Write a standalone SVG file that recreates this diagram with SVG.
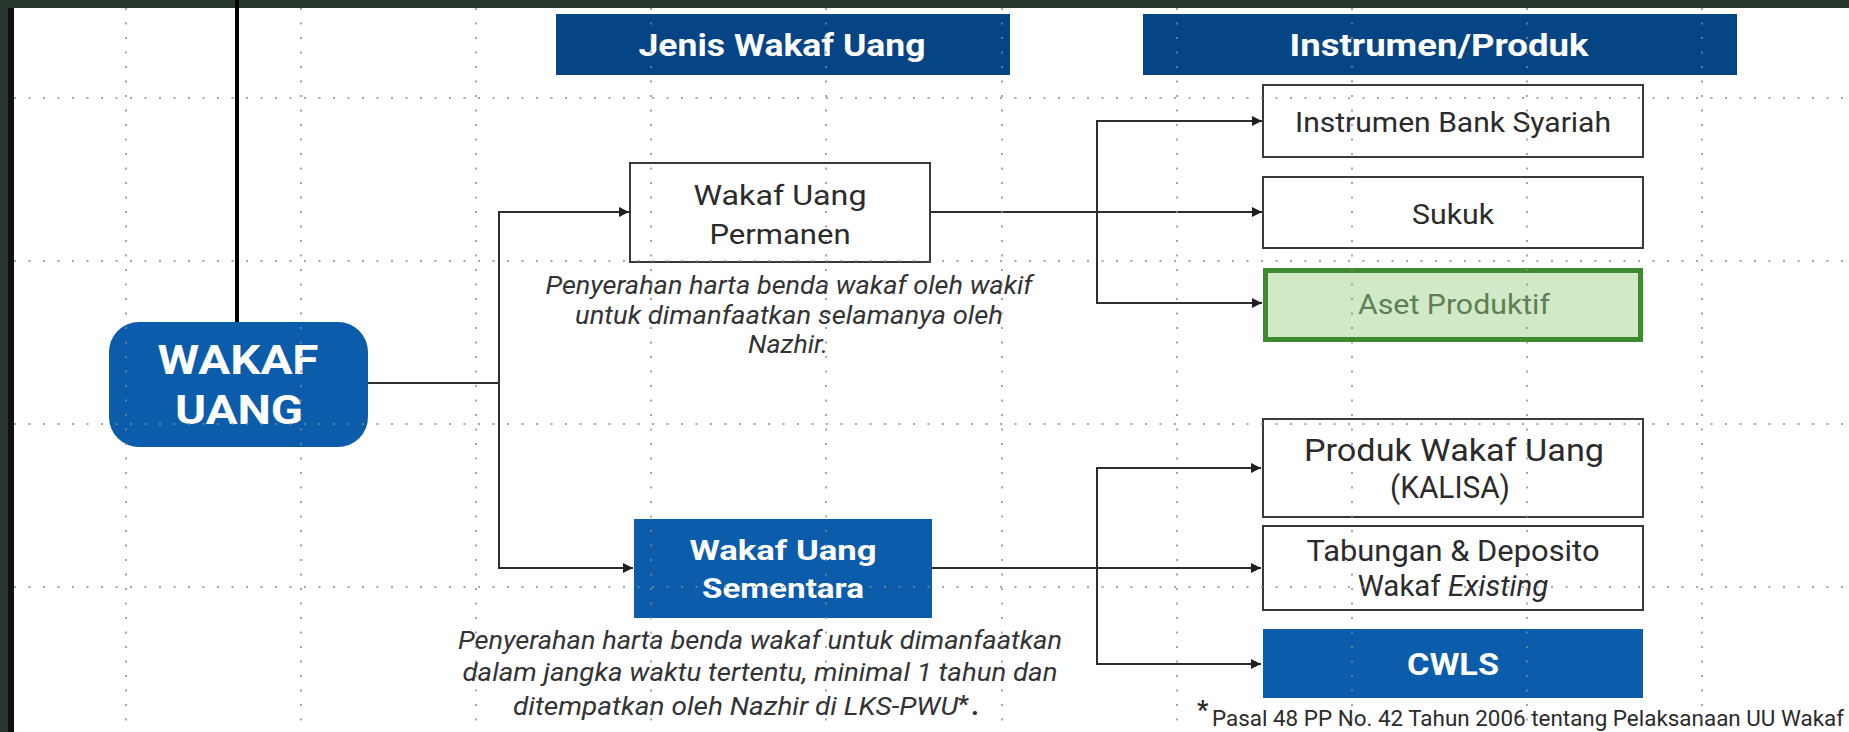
<svg xmlns="http://www.w3.org/2000/svg" width="1849" height="732" viewBox="0 0 1849 732">
<style>
.box{fill:#fff;stroke:#3a3a3a;stroke-width:2}
.blue{fill:#0b5cab}
.hdr{fill:#064585}
.t{font-family:Roboto,"Open Sans",sans-serif;fill:#2b2b2b;text-anchor:middle}
.tw{font-family:Roboto,"Open Sans",sans-serif;fill:#fff;font-weight:700;text-anchor:middle}
.it{font-family:Roboto,"Open Sans",sans-serif;fill:#333;font-style:italic;text-anchor:middle;font-size:25px}
.c{fill:none;stroke:#2e2e2e;stroke-width:2}
.grid{stroke:#8a8a8a;stroke-width:2;stroke-dasharray:2 12.5;opacity:0.75}
</style>
<defs>
<marker id="ah" markerUnits="userSpaceOnUse" markerWidth="11" markerHeight="10" refX="10" refY="5" orient="auto">
<path d="M0,0 L10,5 L0,10 z" fill="#1e1e1e"/>
</marker>
</defs>
<rect x="0" y="0" width="1849" height="732" fill="#29362e"/>
<rect x="8" y="8" width="6" height="724" fill="#111"/>
<rect x="14" y="8" width="1835" height="724" fill="#fff"/>
<line x1="237" y1="0" x2="237" y2="327" stroke="#000" stroke-width="4"/>

<g id="connectors">
<path class="c" d="M368,383 H499 V212 H629" marker-end="url(#ah)"/>
<path class="c" d="M499,383 V568 H633" marker-end="url(#ah)"/>
<path class="c" d="M930,212 H1262" marker-end="url(#ah)"/>
<path class="c" d="M1097,212 V121 H1262" marker-end="url(#ah)"/>
<path class="c" d="M1097,212 V303 H1262" marker-end="url(#ah)"/>
<path class="c" d="M932,568 H1261" marker-end="url(#ah)"/>
<path class="c" d="M1097,568 V468 H1261" marker-end="url(#ah)"/>
<path class="c" d="M1097,568 V664 H1261" marker-end="url(#ah)"/>
</g>

<g id="wakaf-uang">
<rect x="109" y="322" width="259" height="125" rx="30" class="blue"/>
<text class="tw" font-size="41"><tspan x="238" y="374" textLength="161" lengthAdjust="spacingAndGlyphs">WAKAF</tspan><tspan x="239" y="424" textLength="128" lengthAdjust="spacingAndGlyphs">UANG</tspan></text>
</g>

<g id="hdr-jenis">
<rect x="556" y="14" width="454" height="61" class="hdr"/>
<text class="tw" x="782" y="56" font-size="31" textLength="287" lengthAdjust="spacingAndGlyphs">Jenis Wakaf Uang</text>
</g>

<g id="hdr-instrumen">
<rect x="1143" y="14" width="594" height="61" class="hdr"/>
<text class="tw" x="1439" y="56" font-size="31" textLength="299" lengthAdjust="spacingAndGlyphs">Instrumen/Produk</text>
</g>

<g id="permanen">
<rect x="630" y="163" width="300" height="99" class="box"/>
<text class="t" font-size="28.5"><tspan x="780" y="205" textLength="173" lengthAdjust="spacingAndGlyphs">Wakaf Uang</tspan><tspan x="780" y="244" textLength="141" lengthAdjust="spacingAndGlyphs">Permanen</tspan></text>
</g>
<g id="permanen-desc">
<text class="it" font-size="24.5"><tspan x="789" y="294" textLength="487" lengthAdjust="spacingAndGlyphs">Penyerahan harta benda wakaf oleh wakif</tspan><tspan x="789" y="323.5" textLength="428" lengthAdjust="spacingAndGlyphs">untuk dimanfaatkan selamanya oleh</tspan><tspan x="788" y="353" textLength="80" lengthAdjust="spacingAndGlyphs">Nazhir.</tspan></text>
</g>

<g id="sementara">
<rect x="634" y="519" width="298" height="99" class="blue"/>
<text class="tw" font-size="28.5"><tspan x="783" y="560" textLength="187" lengthAdjust="spacingAndGlyphs">Wakaf Uang</tspan><tspan x="783" y="598" textLength="162" lengthAdjust="spacingAndGlyphs">Sementara</tspan></text>
</g>
<g id="sementara-desc">
<text class="it"><tspan x="760" y="649" textLength="604" lengthAdjust="spacingAndGlyphs">Penyerahan harta benda wakaf untuk dimanfaatkan</tspan><tspan x="760" y="681" textLength="595" lengthAdjust="spacingAndGlyphs">dalam jangka waktu tertentu, minimal 1 tahun dan</tspan><tspan x="513" y="715" style="text-anchor:start" textLength="445" lengthAdjust="spacingAndGlyphs">ditempatkan oleh Nazhir di LKS-PWU</tspan><tspan x="958" y="712" style="text-anchor:start" font-style="normal" font-weight="700" font-size="24">*</tspan><tspan x="971" y="715" style="text-anchor:start" font-style="normal" font-weight="700" font-size="27">.</tspan></text>
</g>

<g id="instrumen-bank">
<rect x="1263" y="85" width="380" height="72" class="box"/>
<text class="t" x="1453" y="132" font-size="28" textLength="316" lengthAdjust="spacingAndGlyphs">Instrumen Bank Syariah</text>
</g>
<g id="sukuk">
<rect x="1263" y="177" width="380" height="71" class="box"/>
<text class="t" x="1453" y="224" font-size="28.5" textLength="82" lengthAdjust="spacingAndGlyphs">Sukuk</text>
</g>
<g id="aset-produktif">
<rect x="1265.5" y="270.5" width="375" height="69" fill="#d2e9c7" stroke="#3f8a2e" stroke-width="5"/>
<text class="t" x="1454" y="314" font-size="28.5" textLength="192" lengthAdjust="spacingAndGlyphs" style="fill:#5d7f55">Aset Produktif</text>
</g>
<g id="kalisa">
<rect x="1263" y="419" width="380" height="98" class="box"/>
<text class="t" font-size="31.5"><tspan x="1454" y="461" textLength="300" lengthAdjust="spacingAndGlyphs">Produk Wakaf Uang</tspan><tspan x="1450" y="498" textLength="120" lengthAdjust="spacingAndGlyphs">(KALISA)</tspan></text>
</g>
<g id="tabungan">
<rect x="1263" y="526" width="380" height="84" class="box"/>
<text class="t" font-size="29.5"><tspan x="1453" y="561" textLength="293" lengthAdjust="spacingAndGlyphs">Tabungan &amp; Deposito</tspan><tspan x="1453" y="596">Wakaf <tspan font-style="italic">Existing</tspan></tspan></text>
</g>
<g id="cwls">
<rect x="1263" y="629" width="380" height="69" class="blue"/>
<text class="tw" x="1453" y="675" font-size="31" textLength="92" lengthAdjust="spacingAndGlyphs">CWLS</text>
</g>
<g id="footnote">
<text font-family="Roboto, Open Sans, sans-serif" font-size="21.5" fill="#2b2b2b"><tspan x="1197" y="719" font-weight="700" font-size="25">*</tspan><tspan x="1212" y="726" textLength="632" lengthAdjust="spacingAndGlyphs">Pasal 48 PP No. 42 Tahun 2006 tentang Pelaksanaan UU Wakaf</tspan></text>
</g>

<g id="grid">
<path class="grid" d="M126,8V732 M301,8V732 M476,8V732 M651,8V732 M826,8V732 M1002,8V732 M1177,8V732 M1352,8V732 M1527,8V732 M1702,8V732"/>
<path class="grid" d="M14,98H1849 M14,261H1849 M14,424H1849 M14,587H1849"/>
</g>
</svg>
